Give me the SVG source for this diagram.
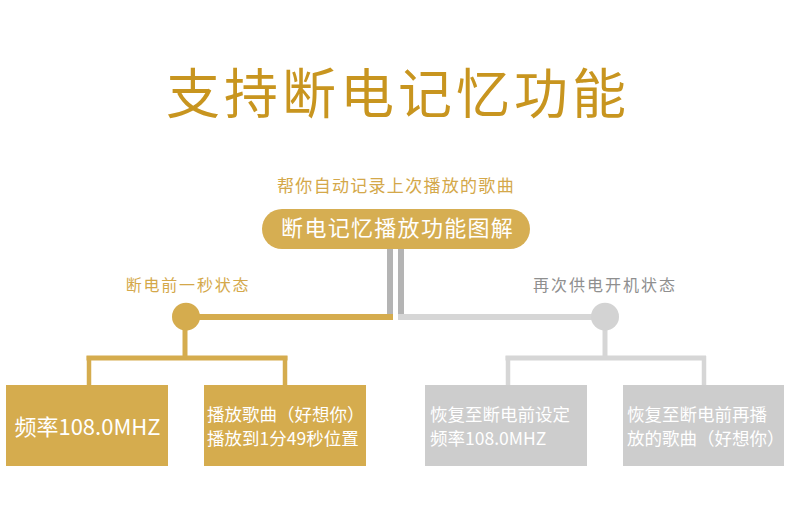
<svg xmlns="http://www.w3.org/2000/svg" width="790" height="527" viewBox="0 0 790 527">
  <style>
    text { font-family: "Noto Sans CJK SC", "Noto Sans", sans-serif; }
    .title { font-size: 54px; fill: #c8951f; letter-spacing: 4px; text-anchor: middle; }
    .sub { font-size: 17px; fill: #d4a84a; letter-spacing: 1.3px; text-anchor: middle; }
    .pilltxt { font-size: 22px; fill: #ffffff; letter-spacing: 1.3px; text-anchor: middle; }
    .lblL { font-size: 16px; fill: #d4a84a; letter-spacing: 1.8px; text-anchor: middle; }
    .lblR { font-size: 16px; fill: #8f8f8f; letter-spacing: 2px; text-anchor: middle; }
    .gold { fill: #d5ac4e; }
    .gray { fill: #cdcdcd; }
    .boxtxt { font-size: 17.5px; fill: #ffffff; }
    .big { font-size: 22px; fill: #ffffff; text-anchor: middle; }
    .lg { stroke: #d5ac4e; fill: none; }
    .lgr { stroke: #d6d6d6; fill: none; }
    .bar { stroke: #b4b4b4; fill: none; }
  </style>

  <g id="title"><text class="title" x="398" y="114">支持断电记忆功能</text></g>
  <g id="subtitle"><text class="sub" x="396" y="192">帮你自动记录上次播放的歌曲</text></g>

  <g id="connectors">
    <line class="bar" x1="390" y1="245" x2="390" y2="314" stroke-width="6"/>
    <line class="bar" x1="401" y1="245" x2="401" y2="317" stroke-width="6"/>
    <line class="lg" x1="186" y1="317" x2="393" y2="317" stroke-width="6"/>
    <line class="lgr" x1="398" y1="317" x2="605" y2="317" stroke-width="6"/>
    <line class="lg" x1="185" y1="317" x2="185" y2="358" stroke-width="5"/>
    <line class="lg" x1="86.5" y1="358" x2="287.5" y2="358" stroke-width="5"/>
    <line class="lg" x1="89" y1="356" x2="89" y2="386" stroke-width="4.5"/>
    <line class="lg" x1="285" y1="356" x2="285" y2="386" stroke-width="4.5"/>
    <line class="lgr" x1="605" y1="317" x2="605" y2="358" stroke-width="5"/>
    <line class="lgr" x1="505.5" y1="358" x2="706" y2="358" stroke-width="5"/>
    <line class="lgr" x1="508" y1="356" x2="508" y2="386" stroke-width="4.5"/>
    <line class="lgr" x1="704" y1="356" x2="704" y2="386" stroke-width="4.5"/>
  </g>

  <g id="pill">
    <rect x="262" y="209" width="268" height="40" rx="20" fill="#d6ae52"/>
    <text class="pilltxt" x="397.6" y="235.5">断电记忆播放功能图解</text>
  </g>

  <g id="label-left"><text class="lblL" x="188" y="291">断电前一秒状态</text></g>
  <g id="label-right"><text class="lblR" x="605" y="291">再次供电开机状态</text></g>

  <g id="dot-left"><circle class="gold" cx="186" cy="316.7" r="14"/></g>
  <g id="dot-right"><circle cx="605" cy="316.7" r="14" fill="#d3d3d3"/></g>

  <g id="box1">
    <rect class="gold" x="6" y="385" width="162" height="81"/>
    <text class="big" x="87.5" y="435">频率108.0MHZ</text>
  </g>
  <g id="box2">
    <rect class="gold" x="204" y="385" width="162" height="81"/>
    <text class="boxtxt" x="207" y="421">播放歌曲（好想你）</text>
    <text class="boxtxt" x="207" y="444.5">播放到1分49秒位置</text>
  </g>
  <g id="box3">
    <rect class="gray" x="425" y="385" width="162" height="81"/>
    <text class="boxtxt" x="430" y="421">恢复至断电前设定</text>
    <text class="boxtxt" x="430" y="444.5">频率108.0MHZ</text>
  </g>
  <g id="box4">
    <rect class="gray" x="623" y="385" width="161" height="81"/>
    <text class="boxtxt" x="627" y="421">恢复至断电前再播</text>
    <text class="boxtxt" x="627" y="444.5">放的歌曲（好想你）</text>
  </g>
</svg>
